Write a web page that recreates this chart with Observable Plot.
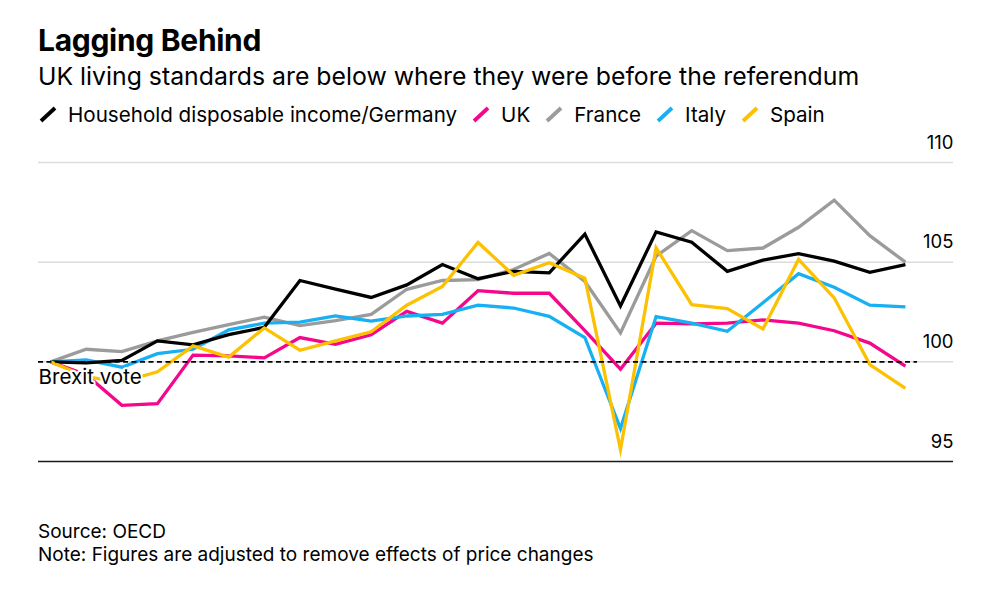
<!DOCTYPE html>
<html><head><meta charset="utf-8">
<script src="https://cdn.jsdelivr.net/npm/d3@7"></script>
<script src="https://cdn.jsdelivr.net/npm/@observablehq/plot@0.6"></script>
<style>
body{margin:0;background:#fff;font-family:Inter,"Liberation Sans",sans-serif;color:#000;}
#wrap{position:relative;width:1008px;height:592px;overflow:hidden;background:#fff}
.t{position:absolute;left:38px;white-space:nowrap}
#title{top:25px;font-size:30px;line-height:30px;font-weight:700;letter-spacing:-0.3px}
#sub{top:64px;font-size:24.8px;line-height:25px}
#legend{top:104px;font-size:20.6px;line-height:21px;display:flex;align-items:center}
#legend .item{display:flex;align-items:center;margin-right:14px}
#legend svg{margin-right:11px;margin-left:1px}
#chart{position:absolute;left:0;top:130px}
#foot{top:520px;font-size:19px;line-height:23px}
</style></head>
<body>
<div id="wrap">
  <div id="title" class="t">Lagging Behind</div>
  <div id="sub" class="t">UK living standards are below where they were before the referendum</div>
  <div id="legend" class="t"></div>
  <div id="chart"></div>
  <div id="foot" class="t">Source: OECD<br>Note: Figures are adjusted to remove effects of price changes</div>
</div>
<script>
const quarters = ["2016 Q2","2016 Q3","2016 Q4","2017 Q1","2017 Q2","2017 Q3","2017 Q4","2018 Q1","2018 Q2","2018 Q3","2018 Q4","2019 Q1","2019 Q2","2019 Q3","2019 Q4","2020 Q1","2020 Q2","2020 Q3","2020 Q4","2021 Q1","2021 Q2","2021 Q3","2021 Q4","2022 Q1","2022 Q2"];
const germany = [100,99.95,100.07,101.05,100.85,101.36,101.73,104.08,103.65,103.23,103.86,104.88,104.17,104.54,104.46,106.41,102.8,106.52,106.0,104.54,105.1,105.43,105.05,104.49,104.88];
const uk      = [100,99.35,97.82,97.9,100.34,100.3,100.2,101.22,100.88,101.36,102.53,101.94,103.57,103.44,103.44,101.56,99.63,101.94,101.9,101.94,102.1,101.94,101.56,100.94,99.78];
const france  = [100,100.63,100.51,101.05,101.48,101.87,102.24,101.82,102.07,102.38,103.64,104.08,104.12,104.63,105.44,104.03,101.45,105.3,106.58,105.58,105.71,106.75,108.11,106.33,105.0];
const italy   = [100,100.1,99.73,100.41,100.63,101.6,101.94,101.99,102.3,102.04,102.3,102.38,102.84,102.7,102.28,101.22,96.65,102.27,101.94,101.53,102.96,104.42,103.74,102.84,102.76];
const spain   = [100,99.25,99.0,99.5,100.8,100.24,101.7,100.58,101.05,101.51,102.84,103.78,105.99,104.34,104.97,104.2,95.6,105.72,102.87,102.67,101.65,105.14,103.21,99.86,98.67];
const names   = ["Household disposable income/Germany","UK","France","Italy","Spain"];
const colors  = ["#000000","#f5078b","#9b9b9b","#17b0f3","#fcc100"];
const yTicks  = [95,100,105,110];
const drawOrder = [2,1,3,0,4];

const seriesVals = [germany, uk, france, italy, spain];

// legend
const legend = document.getElementById("legend");
names.forEach((n,k)=>{
  const it = document.createElement("div"); it.className="item";
  it.innerHTML = `<svg width="18" height="17" viewBox="0 0 18 17"><line x1="2" y1="15" x2="16" y2="2" stroke="${colors[k]}" stroke-width="3.8"/></svg><span>${n}</span>`;
  legend.appendChild(it);
});

const xMin = -0.34, xMax = quarters.length - 1 + 1.35;
const rows = [];
drawOrder.forEach(k => seriesVals[k].forEach((v,i)=>rows.push({i, v, name:names[k], k})));

const lineMarks = drawOrder.map(k => Plot.line(rows.filter(r=>r.k===k), {
  x:"i", y:"v", stroke: colors[k], strokeWidth:3.3, strokeLinejoin:"miter", strokeMiterlimit:6, strokeLinecap:"butt"
}));

const chart = Plot.plot({
  width:1008, height:360, marginTop:32, marginBottom:29, marginLeft:38, marginRight:55,
  style:{fontFamily:"Inter, 'Liberation Sans', sans-serif", background:"transparent", overflow:"visible"},
  x:{domain:[xMin,xMax], axis:null},
  y:{domain:[95,110], axis:null},
  marks:[
    Plot.ruleY(yTicks.filter(d=>d!==95), {stroke:"#dcdcdc", strokeWidth:1.5}),
    Plot.ruleY([95], {stroke:"#1a1a1a", strokeWidth:1.4}),
    Plot.text(yTicks, {x:()=>xMax, y:d=>d, text:d=>String(d), textAnchor:"end", lineAnchor:"bottom", dy:-14, fontSize:18.5, fill:"#000"}),
    ...lineMarks,
    Plot.ruleY([100], {x1:()=>xMin, x2:()=>quarters.length - 1 + 0.34, stroke:"#000", strokeWidth:1.6, strokeDasharray:"5,3.5"}),
    Plot.text(["Brexit vote"], {x:()=>xMin, y:()=>100, text:d=>d, textAnchor:"start", lineAnchor:"top", dy:8, fontSize:20.6, fill:"#000", stroke:"#fff", strokeWidth:4})
  ]
});
document.getElementById("chart").appendChild(chart);
</script>
</body></html>
